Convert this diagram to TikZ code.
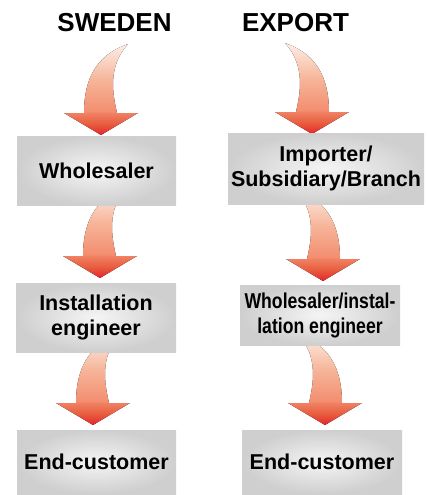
\documentclass[tikz,border=0pt]{standalone}
\usepackage{fontspec}
\setmainfont{Liberation Sans}
\newfontfamily\narrowfont[FakeStretch=0.82]{Liberation Sans}

\definecolor{tipred}{RGB}{228,36,44}
\definecolor{headred}{RGB}{232,92,62}
\definecolor{headsalmon}{RGB}{240,128,98}
\definecolor{shaftlow}{RGB}{243,142,112}
\definecolor{shaftmid}{RGB}{246,180,152}
\definecolor{shafttop}{RGB}{253,238,230}

\pgfdeclareverticalshading{arrowfade}{100bp}{color(0bp)=(tipred); color(25bp)=(tipred);
  color(31bp)=(headred); color(37bp)=(headsalmon); color(38bp)=(shaftlow);
  color(55bp)=(shaftmid); color(75bp)=(shafttop); color(100bp)=(shafttop)}

\tikzset{
  box/.style={rectangle, inner sep=0pt, align=center, inner color=black!4,
    outer color=black!19, font=\bfseries\fontsize{21.5}{25}\selectfont},
  heading/.style={anchor=base, font=\bfseries\fontsize{26}{30}\selectfont},
  pics/bendarrow/.style={code={
    \fill[shading=arrowfade] (27,91) .. controls (8,84) and (-17,70) .. (-17,22)
      -- (-37,22) -- (0,0) -- (37,22) -- (16,22)
      .. controls (12,40) and (6,68) .. (27,91) -- cycle;
  }}
}

\begin{document}
\begin{tikzpicture}[x=1pt,y=1pt]
  \useasboundingbox (0,0) rectangle (426,-495);

  % Drawing arrows, SWEDEN side
  \pic at (101,-135) {bendarrow};
  \pic at (100,-278) {bendarrow};
  \pic at (93,-425) {bendarrow};

  % Drawing arrows, EXPORT side
  \pic[xscale=-1] at (312,-134) {bendarrow};
  \pic[xscale=-1] at (323,-281) {bendarrow};
  \pic[xscale=-1] at (325,-425) {bendarrow};

  % Marking headings
  \node[heading] (sweden) at (114.5,-32) {SWEDEN};
  \node[heading] (export) at (295.5,-32) {EXPORT};

  % Drawing boxes, SWEDEN side
  \node[box, minimum width=159pt, minimum height=69pt] (wholesaler) at (96.5,-170.5) {Wholesaler};
  \node[box, minimum width=160pt, minimum height=69pt] (installer) at (96,-317.5) {Installation\\engineer};
  \node[box, minimum width=159pt, minimum height=64pt] (endsweden) at (96.5,-462) {End-customer};

  % Drawing boxes, EXPORT side
  \node[box, minimum width=196pt, minimum height=71pt] (importer) at (326,-168.5) {Importer/\\Subsidiary/Branch};
  \node[box, minimum width=160pt, minimum height=60pt, font=\bfseries\narrowfont\fontsize{21.5}{25}\selectfont] (wholeinst) at (320,-315) {Wholesaler/instal-\\lation engineer};
  \node[box, minimum width=160pt, minimum height=64pt] (endexport) at (322,-462) {End-customer};
\end{tikzpicture}
\end{document}
